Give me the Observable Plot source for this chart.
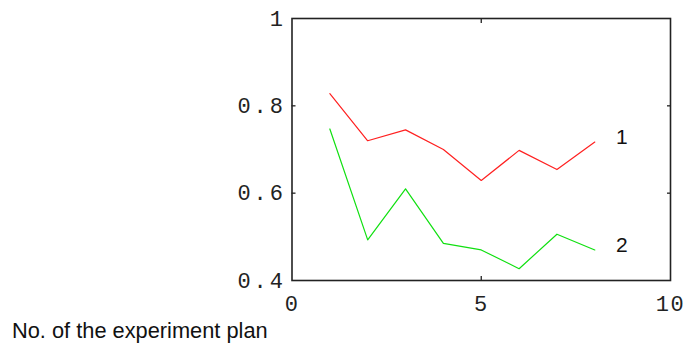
<!DOCTYPE html>
<html>
<head>
<meta charset="utf-8">
<script src="https://cdn.jsdelivr.net/npm/d3@7"></script>
<script src="https://cdn.jsdelivr.net/npm/@observablehq/plot@0.6"></script>
<style>
  html, body { margin: 0; padding: 0; background: #fff; }
  #wrap { position: relative; width: 685px; height: 347px; overflow: hidden; }
  #caption { position: absolute; left: 12px; top: 320px; font-family: "Liberation Sans", Arial, sans-serif; font-size: 21.8px; line-height: 1; color: #111; white-space: nowrap; }
</style>
</head>
<body>
<div id="wrap"><div id="chart"></div><div id="caption">No. of the experiment plan</div></div>
<script>
const plans = [1, 2, 3, 4, 5, 6, 7, 8];
const series1 = [0.828, 0.72, 0.745, 0.70, 0.629, 0.698, 0.654, 0.717];
const series2 = [0.747, 0.493, 0.61, 0.485, 0.47, 0.427, 0.506, 0.47];
const seriesNames = ["1", "2"];
const seriesColors = ["#ff2020", "#10e010"];
const xTicks = [0, 5, 10];
const yTicks = [0.4, 0.6, 0.8, 1];
const xInner = [5];
const yInner = [0.6, 0.8];

const allSeries = [series1, series2];
const rows = [];
allSeries.forEach((vals, i) => plans.forEach((p, j) => rows.push({plan: p, value: vals[j], series: seriesNames[i]})));
const lastRows = allSeries.map((vals, i) => ({plan: plans[plans.length - 1], value: vals[vals.length - 1], series: seriesNames[i]}));

const monoFont = {fontFamily: "'Liberation Mono', 'Courier New', monospace", fontSize: 22, fill: "#222"};

const chart = Plot.plot({
  width: 685,
  height: 318,
  marginLeft: 291.5,
  marginRight: 15,
  marginTop: 18,
  marginBottom: 38,
  x: {domain: [0, 10]},
  y: {domain: [0.4, 1]},
  style: {background: "white"},
  marks: [
    Plot.axisY({ticks: yTicks, tickSize: 0, tickPadding: 6, tickFormat: d => String(d), label: null, ...monoFont, className: "ylab"}),
    Plot.axisX({ticks: xTicks, tickSize: 0, tickPadding: 15, tickFormat: d => String(d), label: null, ...monoFont, className: "xlab"}),
    Plot.axisY({ticks: yInner, anchor: "left", tickSize: -4, tickFormat: () => "", label: null, stroke: "#222", strokeWidth: 1.3}),
    Plot.axisY({ticks: yInner, anchor: "right", tickSize: -4, tickFormat: () => "", label: null, stroke: "#222", strokeWidth: 1.3}),
    Plot.axisX({ticks: xInner, anchor: "bottom", tickSize: -4, tickFormat: () => "", label: null, stroke: "#222", strokeWidth: 1.3}),
    Plot.axisX({ticks: xInner, anchor: "top", tickSize: -4, tickFormat: () => "", label: null, stroke: "#222", strokeWidth: 1.3}),
    Plot.line(rows, {x: "plan", y: "value", z: "series", stroke: d => seriesColors[seriesNames.indexOf(d.series)], strokeWidth: 1.2}),
    Plot.text(lastRows, {x: "plan", y: "value", text: "series", dx: 27, dy: -5, fontFamily: "'Liberation Sans', Arial, sans-serif", fontSize: 21, fill: "#111"}),
    Plot.frame({stroke: "#222", strokeWidth: 1.6})
  ]
});
chart.querySelectorAll("g.ylab text").forEach(t => t.setAttribute("letter-spacing", "3"));
chart.querySelectorAll("g.xlab text").forEach(t => t.setAttribute("letter-spacing", "1.5"));
document.getElementById("chart").appendChild(chart);
</script>
</body>
</html>
